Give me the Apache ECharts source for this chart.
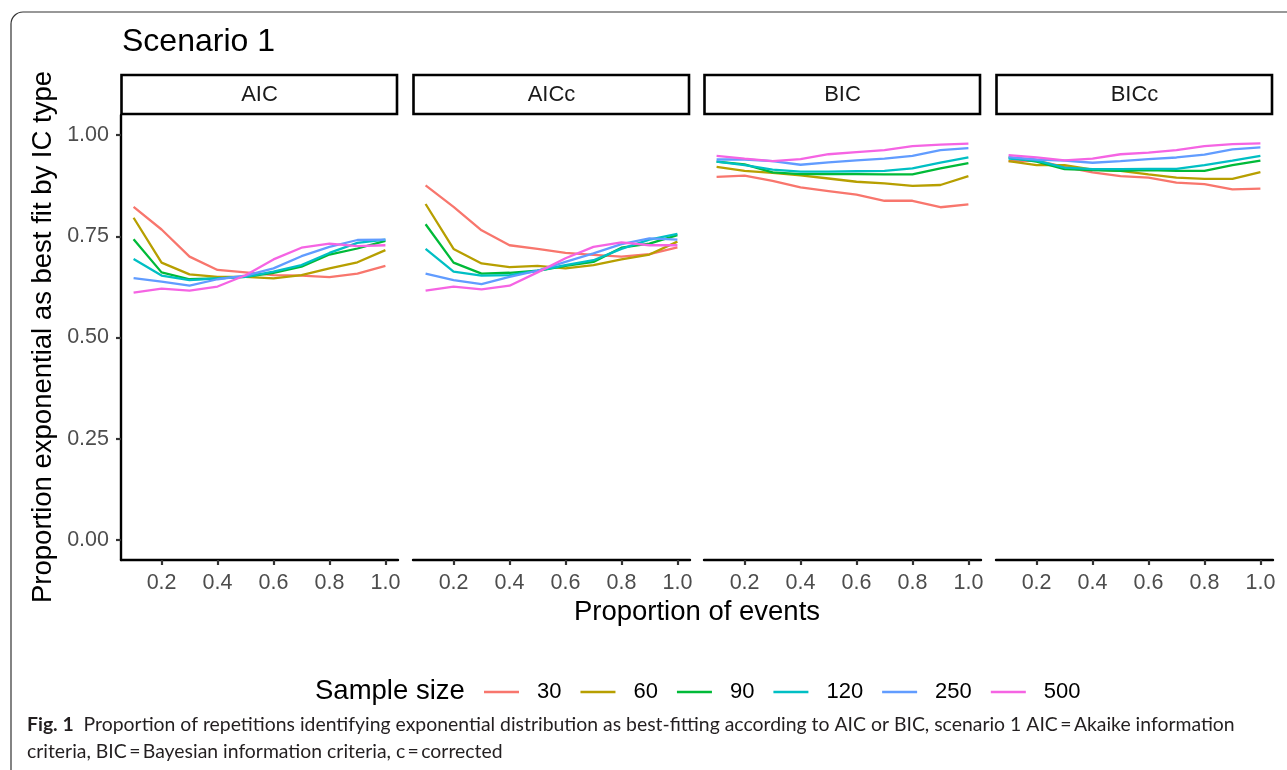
<!DOCTYPE html>
<html>
<head>
<meta charset="utf-8">
<script src="https://cdn.jsdelivr.net/npm/echarts@6.0.0/dist/echarts.min.js"></script>
<style>
html,body{margin:0;padding:0;background:#fff;}
#chart{width:1287px;height:770px;}
</style>
</head>
<body>
<div id="chart"></div>
<script>
// ---- data ----
const panels = ['AIC', 'AICc', 'BIC', 'BICc'];
const sampleSizes = ['30', '60', '90', '120', '250', '500'];
const props = [0.1, 0.2, 0.3, 0.4, 0.5, 0.6, 0.7, 0.8, 0.9, 1.0];
const xTicks = [0.2, 0.4, 0.6, 0.8, 1.0];
const yTicks = [0, 0.25, 0.5, 0.75, 1.0];

// rows: sample size 30, 60, 90, 120, 250, 500
const AIC = [
  [0.823, 0.767, 0.700, 0.667, 0.661, 0.654, 0.653, 0.649, 0.658, 0.677],
  [0.796, 0.685, 0.656, 0.650, 0.650, 0.646, 0.654, 0.671, 0.686, 0.716],
  [0.743, 0.661, 0.644, 0.646, 0.650, 0.660, 0.675, 0.705, 0.720, 0.739],
  [0.694, 0.653, 0.642, 0.646, 0.650, 0.663, 0.679, 0.709, 0.734, 0.742],
  [0.647, 0.638, 0.628, 0.644, 0.653, 0.671, 0.701, 0.724, 0.741, 0.742],
  [0.611, 0.621, 0.616, 0.626, 0.654, 0.693, 0.722, 0.732, 0.726, 0.728]
];
const AICc = [
  [0.876, 0.823, 0.765, 0.728, 0.719, 0.709, 0.704, 0.700, 0.706, 0.723],
  [0.830, 0.719, 0.683, 0.674, 0.677, 0.671, 0.679, 0.693, 0.705, 0.737],
  [0.780, 0.685, 0.658, 0.660, 0.665, 0.677, 0.687, 0.722, 0.732, 0.753],
  [0.719, 0.663, 0.653, 0.654, 0.665, 0.679, 0.691, 0.719, 0.742, 0.756],
  [0.658, 0.642, 0.632, 0.650, 0.665, 0.687, 0.708, 0.731, 0.745, 0.742],
  [0.616, 0.626, 0.619, 0.628, 0.661, 0.696, 0.724, 0.735, 0.728, 0.728]
];
const BIC = [
  [0.897, 0.900, 0.887, 0.871, 0.862, 0.853, 0.838, 0.838, 0.822, 0.829],
  [0.922, 0.912, 0.907, 0.901, 0.893, 0.885, 0.881, 0.875, 0.877, 0.899],
  [0.935, 0.928, 0.908, 0.904, 0.904, 0.904, 0.903, 0.903, 0.918, 0.931],
  [0.935, 0.926, 0.915, 0.910, 0.910, 0.911, 0.912, 0.918, 0.932, 0.945],
  [0.940, 0.940, 0.936, 0.927, 0.933, 0.938, 0.942, 0.949, 0.963, 0.968],
  [0.949, 0.942, 0.936, 0.941, 0.953, 0.958, 0.963, 0.973, 0.977, 0.979]
];
const BICc = [
  [0.936, 0.937, 0.922, 0.908, 0.899, 0.895, 0.883, 0.879, 0.866, 0.868],
  [0.936, 0.926, 0.926, 0.915, 0.912, 0.903, 0.895, 0.892, 0.892, 0.909],
  [0.945, 0.935, 0.916, 0.914, 0.912, 0.914, 0.912, 0.912, 0.926, 0.937],
  [0.942, 0.937, 0.920, 0.916, 0.916, 0.917, 0.917, 0.926, 0.937, 0.949],
  [0.946, 0.940, 0.937, 0.932, 0.936, 0.941, 0.945, 0.952, 0.965, 0.970],
  [0.951, 0.945, 0.938, 0.942, 0.953, 0.957, 0.963, 0.973, 0.978, 0.980]
];
const panelData = [AIC, AICc, BIC, BICc];

// ---- styling ----
const colors = ['#F8766D', '#B79F00', '#00BA38', '#00BFC4', '#619CFF', '#F564E3'];
const FONT = '"Liberation Sans", Arial, Helvetica, sans-serif';
const gridLefts = [121, 413, 704, 996];
const gridW = 277, gridTop = 115, gridH = 445;

const grids = [], xAxes = [], yAxes = [], series = [], graphics = [];

graphics.push({
  type: 'rect', silent: true, z: 0,
  shape: { x: 11, y: 12, width: 1400, height: 900, r: 12 },
  style: { fill: 'none', stroke: '#333', lineWidth: 1.2 }
});
graphics.push({
  type: 'text', x: 122, y: 42,
  style: { text: 'Scenario 1', font: '32px ' + FONT, fill: '#000', verticalAlign: 'middle', align: 'left' }
});

panels.forEach((p, i) => {
  grids.push({ left: gridLefts[i], top: gridTop, width: gridW, height: gridH, containLabel: false });
  xAxes.push({
    type: 'value', gridIndex: i, min: 0.055, max: 1.045,
    splitLine: { show: false },
    axisLine: { show: true, onZero: false, lineStyle: { color: '#000', width: 2.4 } },
    axisTick: { show: true, length: 5, customValues: xTicks, lineStyle: { color: '#333', width: 2.2 } },
    axisLabel: {
      show: true, customValues: xTicks, margin: 12, color: '#4D4D4D', fontSize: 21.5, fontFamily: FONT,
      formatter: v => v.toFixed(1)
    }
  });
  yAxes.push({
    type: 'value', gridIndex: i, min: -0.05, max: 1.05, show: i === 0,
    splitLine: { show: false },
    axisLine: { show: i === 0, onZero: false, lineStyle: { color: '#000', width: 2.4 } },
    axisTick: { show: i === 0, length: 5, customValues: yTicks, lineStyle: { color: '#333', width: 2.2 } },
    axisLabel: {
      show: i === 0, customValues: yTicks, margin: 12, color: '#4D4D4D', fontSize: 21.5, fontFamily: FONT,
      formatter: v => v.toFixed(2)
    }
  });
  panelData[i].forEach((vals, k) => {
    series.push({
      name: sampleSizes[k], type: 'line', xAxisIndex: i, yAxisIndex: i,
      data: props.map((x, j) => [x, vals[j]]),
      symbol: 'none', showSymbol: false, silent: true, animation: false,
      lineStyle: { color: colors[k], width: 2.3 }, itemStyle: { color: colors[k] }
    });
  });
  // facet strip
  graphics.push({
    type: 'rect', silent: true,
    shape: { x: gridLefts[i] + 0.5, y: 75, width: gridW - 1.5, height: 39 },
    style: { fill: '#fff', stroke: '#000', lineWidth: 2.6 }
  });
  graphics.push({
    type: 'text', x: gridLefts[i] + gridW / 2, y: 95,
    style: { text: p, font: '22px ' + FONT, fill: '#1A1A1A', align: 'center', verticalAlign: 'middle' }
  });
});

graphics.push({
  type: 'text', x: 697, y: 612,
  style: { text: 'Proportion of events', font: '27.5px ' + FONT, fill: '#000', align: 'center', verticalAlign: 'middle' }
});
graphics.push({
  type: 'text', x: 43, y: 337, rotation: Math.PI / 2,
  style: { text: 'Proportion exponential as best fit by IC type', font: '27.5px ' + FONT, fill: '#000', align: 'center', verticalAlign: 'middle' }
});
graphics.push({
  type: 'text', x: 315, y: 691,
  style: { text: 'Sample size', font: '27.5px ' + FONT, fill: '#000', align: 'left', verticalAlign: 'middle' }
});
const CAP = '"Lato", "Open Sans", sans-serif';
graphics.push({
  type: 'text', x: 27, y: 725,
  style: {
    text: '{b|Fig. 1}  Proportion of repetitions identifying exponential distribution as best-fitting according to AIC or BIC, scenario 1 AIC\u2009=\u2009Akaike information',
    font: '19.4px ' + CAP, fill: '#231F20', align: 'left', verticalAlign: 'middle',
    rich: { b: { fontWeight: 'bold', fontSize: 19.4, fontFamily: CAP, fill: '#231F20' } }
  }
});
graphics.push({
  type: 'text', x: 27, y: 752,
  style: {
    text: 'criteria, BIC\u2009=\u2009Bayesian information criteria, c\u2009=\u2009corrected',
    font: '19.4px ' + CAP, fill: '#231F20', align: 'left', verticalAlign: 'middle'
  }
});

const chart = echarts.init(document.getElementById('chart'), null, { renderer: 'canvas' });
chart.setOption({
  animation: false,
  backgroundColor: '#fff',
  grid: grids, xAxis: xAxes, yAxis: yAxes, series: series,
  legend: {
    data: sampleSizes, left: 479, top: 676, orient: 'horizontal',
    icon: 'rect', itemWidth: 35, itemHeight: 2.6, itemGap: 19,
    textStyle: { fontSize: 22, fontFamily: FONT, color: '#000', padding: [0, 0, 0, 13] },
    selectedMode: false
  },
  graphic: graphics
});
</script>
</body>
</html>
